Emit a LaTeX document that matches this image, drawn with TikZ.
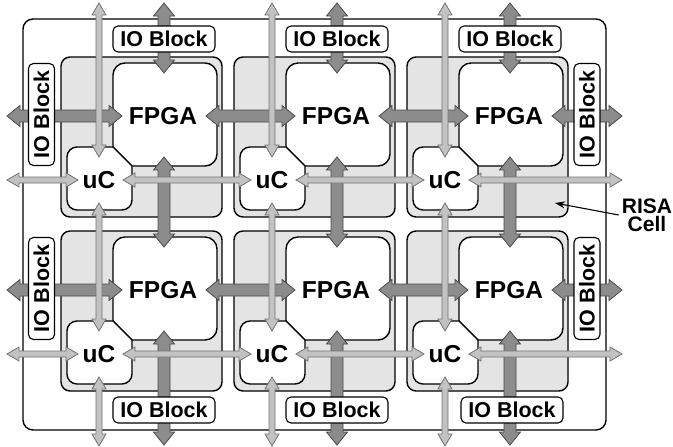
\documentclass[tikz,border=0pt]{standalone}
\usepackage{fontspec}
\setmainfont{Liberation Sans}
\usetikzlibrary{calc,arrows.meta}
\definecolor{cellgray}{HTML}{E4E4E4}
\definecolor{darkfill}{HTML}{8C8C8C}
\definecolor{darkedge}{HTML}{4A4A4A}
\definecolor{lightfill}{HTML}{C2C2C2}
\definecolor{lightedge}{HTML}{737373}
% horizontal double arrow: style, left tip, right tip, shaft half width, head half width, head length
\newcommand{\HArr}[6]{%
  \path[#1] let \p1=(#2), \p2=(#3) in
    (\x1,\y1) -- (\x1+#6,\y1+#5) -- (\x1+#6,\y1+#4) -- (\x2-#6,\y1+#4) -- (\x2-#6,\y1+#5)
    -- (\x2,\y1) -- (\x2-#6,\y1-#5) -- (\x2-#6,\y1-#4) -- (\x1+#6,\y1-#4) -- (\x1+#6,\y1-#5) -- cycle;}
% vertical double arrow: style, top tip, bottom tip, shaft half width, head half width, head length
\newcommand{\VArr}[6]{%
  \path[#1] let \p1=(#2), \p2=(#3) in
    (\x1,\y1) -- (\x1+#5,\y1-#6) -- (\x1+#4,\y1-#6) -- (\x1+#4,\y2+#6) -- (\x1+#5,\y2+#6)
    -- (\x1,\y2) -- (\x1-#5,\y2+#6) -- (\x1-#4,\y2+#6) -- (\x1-#4,\y1-#6) -- (\x1-#5,\y1-#6) -- cycle;}
\begin{document}
\begin{tikzpicture}[x=1pt,y=-1pt,
  outerbox/.style={draw=black, line width=1.4pt, rounded corners=10pt, fill=white},
  cellbox/.style={draw=black, line width=1.4pt, rounded corners=9pt, fill=cellgray},
  chip/.style={draw=black, line width=1.4pt, fill=white},
  chiptext/.style={inner sep=0pt, font=\fontsize{24.5}{24.5}\selectfont\bfseries},
  iobox/.style={draw=black, line width=1.1pt, rounded corners=5pt, fill=white,
    minimum width=102pt, minimum height=26pt, inner sep=0pt,
    font=\fontsize{21.5}{21.5}\selectfont\bfseries},
  darkarrow/.style={fill=darkfill, draw=darkedge, line width=0.8pt},
  lightarrow/.style={fill=lightfill, draw=lightedge, line width=0.8pt},
  pointer/.style={draw=black, line width=1.1pt, -{Stealth[length=10pt,width=7pt]}}]
\useasboundingbox (0,0) rectangle (673,447);
\draw[outerbox] (23,19) rectangle (606,430);
\foreach \i in {0,1,2}{
  \foreach \j in {0,1}{
    \begin{scope}[shift={({173*\i},{174*\j})}]
      \draw[cellbox] (61,57) rectangle (222,217);
      \draw[chip] (113,100) [rounded corners=12pt] -- (113,63) -- (217,63) -- (217,166) -- (170,166)
        [sharp corners] -- (132,166) -- (113,147) -- cycle;
      \draw[chip] (67,180) [rounded corners=10pt] -- (67,147) -- (90,147)
        [sharp corners] -- (113,147) -- (132,166) -- (132,190)
        [rounded corners=10pt] -- (132,210) -- (67,210) -- cycle;
      \node[chiptext] (fpga\i\j) at (163,116) {FPGA};
      \node[chiptext] (uc\i\j) at (99,180) {uC};
      \coordinate (fL\i\j) at (122,116);
      \coordinate (fR\i\j) at (206,116);
      \coordinate (fT\i\j) at (164,73);
      \coordinate (fB\i\j) at (164,157);
      \coordinate (uL\i\j) at (78,180);
      \coordinate (uR\i\j) at (123,180);
      \coordinate (uT\i\j) at (99,157);
      \coordinate (uB\i\j) at (99,203);
    \end{scope}
  }
}
\foreach \j in {0,1}{
  \coordinate (dEL\j) at (7,{116+174*\j});
  \coordinate (dER\j) at (622,{116+174*\j});
  \coordinate (lEL\j) at (7,{180+174*\j});
  \coordinate (lER\j) at (622,{180+174*\j});
}
\foreach \i in {0,1,2}{
  \coordinate (dET\i) at ({164+173*\i},3);
  \coordinate (dEB\i) at ({164+173*\i},445);
  \coordinate (lET\i) at ({99+173*\i},3);
  \coordinate (lEB\i) at ({99+173*\i},446);
}
% dark FPGA links
\foreach \j in {0,1}{
  \HArr{darkarrow}{dEL\j}{fL0\j}{6pt}{10.5pt}{13pt}
  \HArr{darkarrow}{fR0\j}{fL1\j}{6pt}{10.5pt}{13pt}
  \HArr{darkarrow}{fR1\j}{fL2\j}{6pt}{10.5pt}{13pt}
  \HArr{darkarrow}{fR2\j}{dER\j}{6pt}{10.5pt}{13pt}
}
\foreach \i in {0,1,2}{
  \VArr{darkarrow}{dET\i}{fT\i0}{6pt}{10.5pt}{13pt}
  \VArr{darkarrow}{fB\i0}{fT\i1}{6pt}{10.5pt}{13pt}
  \VArr{darkarrow}{fB\i1}{dEB\i}{6pt}{10.5pt}{13pt}
}
% light uC links
\foreach \j in {0,1}{
  \HArr{lightarrow}{lEL\j}{uL0\j}{3pt}{7pt}{12pt}
  \HArr{lightarrow}{uR0\j}{uL1\j}{3pt}{7pt}{12pt}
  \HArr{lightarrow}{uR1\j}{uL2\j}{3pt}{7pt}{12pt}
  \HArr{lightarrow}{uR2\j}{lER\j}{3pt}{7pt}{12pt}
}
\foreach \i in {0,1,2}{
  \VArr{lightarrow}{lET\i}{uT\i0}{3pt}{7pt}{12pt}
  \VArr{lightarrow}{uB\i0}{uT\i1}{3pt}{7pt}{12pt}
  \VArr{lightarrow}{uB\i1}{lEB\i}{3pt}{7pt}{12pt}
}
% IO blocks
\foreach \i/\x in {0/164,1/337,2/510}{
  \node[iobox] (iotop\i) at (\x,39) {IO Block};
}
\foreach \i/\x in {0/164,1/337,2/512}{
  \node[iobox] (iobot\i) at (\x,410) {IO Block};
}
\foreach \j in {0,1}{
  \node[iobox, rotate=90] (ioleft\j) at (41.5,{114.5+174*\j}) {IO Block};
  \node[iobox, rotate=90] (ioright\j) at (587,{114.5+174*\j}) {IO Block};
}
% RISA cell label
\node[inner sep=0pt, align=center, font=\fontsize{21}{18}\selectfont\bfseries] (risa) at (647,215) {RISA\\Cell};
\coordinate (celltip) at (555,203);
\draw[pointer] ([xshift=-3pt]risa.west) -- (celltip);
\end{tikzpicture}
\end{document}
